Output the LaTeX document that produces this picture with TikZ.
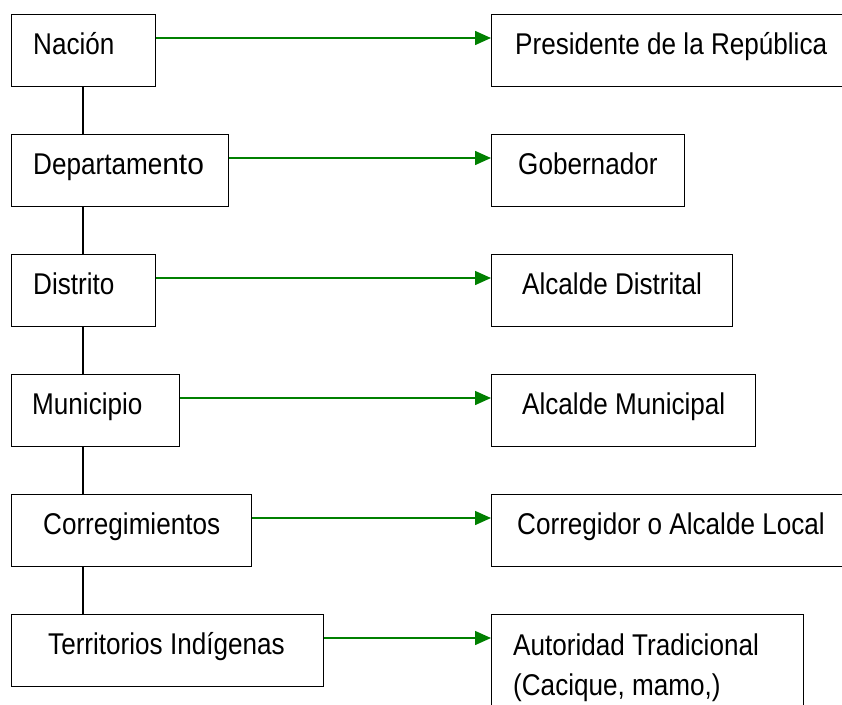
\documentclass[tikz,border=0pt]{standalone}
\usepackage{fontspec}
\setmainfont{Liberation Sans}[FakeStretch=0.87]
\newfontfamily\widefont{Liberation Sans}
\usetikzlibrary{arrows.meta}
\definecolor{arrowgreen}{RGB}{0,128,0}
\tikzset{
  box/.style={draw=black, line width=1.4pt, rectangle, inner sep=0pt, minimum height=72pt, anchor=north west},
  lbl/.style={inner sep=0pt, anchor=base west, font=\fontsize{30}{40}\selectfont},
  garrow/.style={draw=arrowgreen, line width=1.5pt, -{Triangle[length=16pt,width=14pt]}},
  vline/.style={draw=black, line width=1.3pt}
}
\begin{document}
\begin{tikzpicture}[x=1pt,y=-1pt]
\useasboundingbox (0,0) rectangle (842,704);
\clip (0,0) rectangle (842,704);
% left column
\node[box, minimum width=144pt] (n1) at (11,14) {};
\node[box, minimum width=217pt] (n2) at (11,134) {};
\node[box, minimum width=144pt] (n3) at (11,254) {};
\node[box, minimum width=168pt] (n4) at (11,374) {};
\node[box, minimum width=240pt] (n5) at (11,494) {};
\node[box, minimum width=312pt] (n6) at (11,614) {};
% right column
\node[box, minimum width=360pt] (p1) at (491,14) {};
\node[box, minimum width=193pt] (p2) at (491,134) {};
\node[box, minimum width=241pt] (p3) at (491,254) {};
\node[box, minimum width=264pt] (p4) at (491,374) {};
\node[box, minimum width=360pt] (p5) at (491,494) {};
\node[box, minimum width=312pt, minimum height=110pt] (p6) at (491,614) {};
% labels
\node[lbl] (t1) at (33,54) {Nación};
\node[lbl] (t2) at (33,174) {Departame{\widefont nto}};
\node[lbl] (t3) at (33,294) {Distrito};
\node[lbl] (t4) at (32,414) {Municipio};
\node[lbl] (t5) at (43,534) {Corregimientos};
\node[lbl] (t6) at (48,654) {Territorios Indígenas};
\node[lbl] (u1) at (515,54) {Presidente de la República};
\node[lbl] (u2) at (518,174) {Gobernador};
\node[lbl] (u3) at (522,294) {Alcalde Distrital};
\node[lbl] (u4) at (522,414) {Alcalde Municipal};
\node[lbl] (u5) at (517,534) {Corregidor o Alcalde Local};
\node[lbl] (u6) at (513,655) {Autoridad Tradicional};
\node[lbl] (u7) at (513,695) {(Cacique, mamo,)};
% vertical connectors
\foreach \a/\b in {n1/n2,n2/n3,n3/n4,n4/n5,n5/n6}
  \draw[vline] ([xshift=72pt]\a.south west) -- ([xshift=72pt]\b.north west);
% green arrows
\foreach \a/\b in {n1/p1,n2/p2,n3/p3,n4/p4,n5/p5,n6/p6}
  \draw[garrow] ([yshift=-24pt]\a.north east) -- ([yshift=-24pt]\b.north west);
\end{tikzpicture}
\end{document}
